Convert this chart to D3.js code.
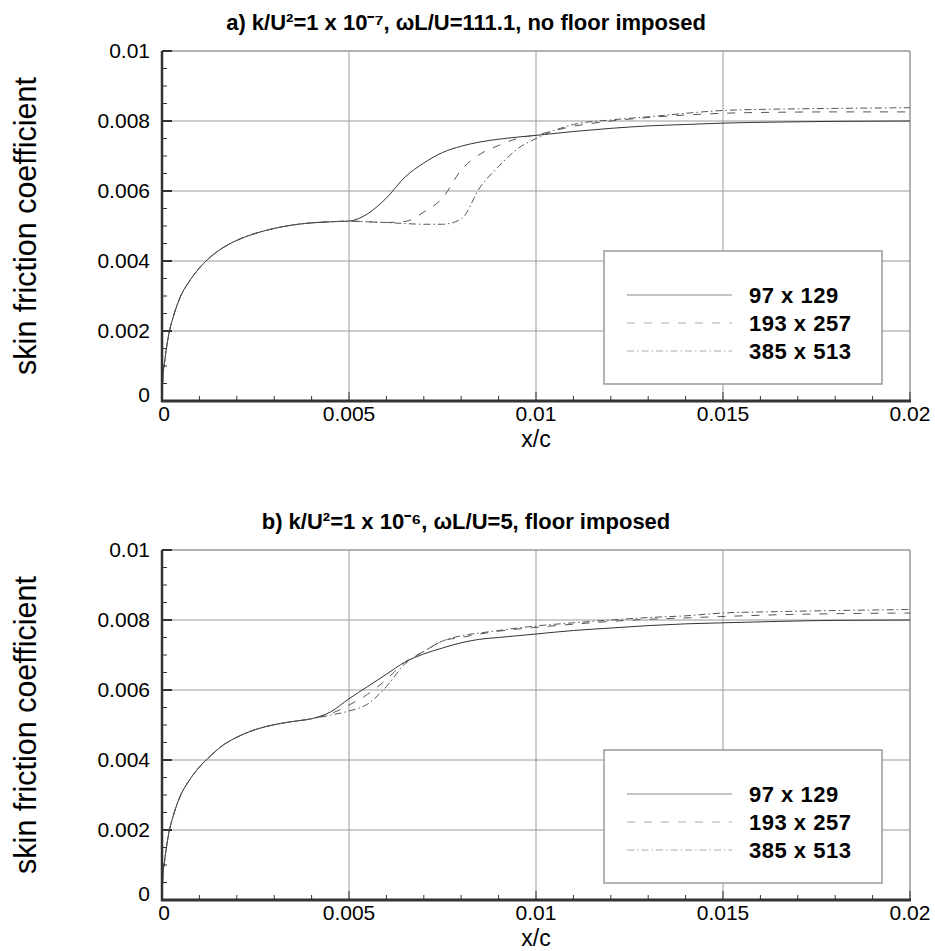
<!DOCTYPE html>
<html>
<head>
<meta charset="utf-8">
<script src="https://cdn.jsdelivr.net/npm/d3@7"></script>
<style>
html, body { margin: 0; padding: 0; background: #fff; }
svg { display: block; }
text { font-family: "Liberation Sans", Arial, Helvetica, sans-serif; fill: #000; }
</style>
</head>
<body>
<svg id="chart" width="935" height="951"></svg>
<script>
// ---------------- data ----------------
const xGrid = [0, 0.00002, 0.00008, 0.0002, 0.0003, 0.0005, 0.0007, 0.001, 0.0013, 0.0016,
  0.002, 0.0025, 0.003, 0.0035, 0.004, 0.0045, 0.005, 0.0055, 0.006, 0.0065,
  0.007, 0.0075, 0.008, 0.0085, 0.009, 0.0095, 0.01, 0.011, 0.012, 0.013,
  0.014, 0.015, 0.0165, 0.018, 0.02];

// panel a
const a97  = [0, 0.0006, 0.0012, 0.0020, 0.0024, 0.0030, 0.00337, 0.0038, 0.00412, 0.00436,
  0.00459, 0.00479, 0.00493, 0.00503, 0.00509, 0.00512, 0.00514, 0.00535, 0.0058, 0.0064,
  0.0068, 0.0071, 0.00728, 0.0074, 0.00748, 0.00754, 0.00759, 0.0077, 0.00779, 0.00786,
  0.0079, 0.00794, 0.00797, 0.00799, 0.0080];
const a193 = [0, 0.0006, 0.0012, 0.0020, 0.0024, 0.0030, 0.00337, 0.0038, 0.00412, 0.00436,
  0.00459, 0.00479, 0.00493, 0.00503, 0.00509, 0.00512, 0.00514, 0.00512, 0.0051, 0.00513,
  0.0054, 0.0058, 0.0066, 0.00705, 0.0073, 0.0075, 0.0076, 0.00785, 0.0080, 0.0081,
  0.00817, 0.00822, 0.00825, 0.00826, 0.00826];
const a385 = [0, 0.0006, 0.0012, 0.0020, 0.0024, 0.0030, 0.00337, 0.0038, 0.00412, 0.00436,
  0.00459, 0.00479, 0.00493, 0.00503, 0.00509, 0.00512, 0.00514, 0.00512, 0.0051, 0.00507,
  0.00505, 0.00505, 0.0052, 0.0061, 0.0067, 0.0072, 0.0075, 0.0079, 0.00803, 0.00812,
  0.00822, 0.0083, 0.00834, 0.00836, 0.00838];

// panel b
const b97  = [0, 0.0006, 0.0012, 0.0020, 0.0024, 0.0030, 0.00337, 0.0038, 0.00412, 0.0044,
  0.00465, 0.00487, 0.00501, 0.0051, 0.00518, 0.00537, 0.00575, 0.0061, 0.00645, 0.0068,
  0.00703, 0.0072, 0.00735, 0.00745, 0.0075, 0.00755, 0.0076, 0.0077, 0.00777, 0.00784,
  0.00789, 0.00792, 0.00796, 0.00799, 0.0080];
const b193 = [0, 0.0006, 0.0012, 0.0020, 0.0024, 0.0030, 0.00337, 0.0038, 0.00412, 0.0044,
  0.00465, 0.00487, 0.00501, 0.0051, 0.00518, 0.00532, 0.00557, 0.00588, 0.0063, 0.0068,
  0.0071, 0.0074, 0.0075, 0.0076, 0.00768, 0.00774, 0.00779, 0.00788, 0.00796, 0.00802,
  0.00806, 0.0081, 0.00815, 0.00818, 0.0082];
const b385 = [0, 0.0006, 0.0012, 0.0020, 0.0024, 0.0030, 0.00337, 0.0038, 0.00412, 0.0044,
  0.00465, 0.00487, 0.00501, 0.0051, 0.00518, 0.00528, 0.0054, 0.0056, 0.0061, 0.00675,
  0.0071, 0.0074, 0.00755, 0.00763, 0.0077, 0.00777, 0.00783, 0.00792, 0.0080, 0.00807,
  0.00812, 0.0082, 0.00824, 0.00827, 0.0083];

const seriesNames = ["97 x 129", "193 x 257", "385 x 513"];
const xTicks = [0, 0.005, 0.01, 0.015, 0.02];
const xTickLabels = ["0", "0.005", "0.01", "0.015", "0.02"];
const yTicks = [0, 0.002, 0.004, 0.006, 0.008, 0.01];
const yTickLabels = ["0", "0.002", "0.004", "0.006", "0.008", "0.01"];
const titleA = "a) k/U\u00B2=1 x 10\u207B\u2077, \u03C9L/U=111.1, no floor imposed";
const titleB = "b) k/U\u00B2=1 x 10\u207B\u2076, \u03C9L/U=5, floor imposed";
const yLabel = "skin friction coefficient";
const xLabel = "x/c";

// ---------------- drawing ----------------
const svg = d3.select("#chart");
const W = 748, H = 350, L = 162;
const styles = [
  { color: "#333", dash: null, legColor: "#888" },
  { color: "#555", dash: "8,9", legColor: "#aaa" },
  { color: "#555", dash: "7,3,1.5,3", legColor: "#aaa" }
];

function panel(top, title, ys) {
  const g = svg.append("g").attr("transform", `translate(${L},${top})`);
  const x = d3.scaleLinear().domain([0, 0.02]).range([0, W]);
  const y = d3.scaleLinear().domain([0, 0.01]).range([H, 0]);

  // grid
  g.append("g").selectAll("line").data(xTicks.slice(1, -1)).join("line")
    .attr("x1", d => x(d)).attr("x2", d => x(d)).attr("y1", 0).attr("y2", H)
    .attr("stroke", "#9a9a9a").attr("stroke-width", 1);
  g.append("g").selectAll("line").data(yTicks.slice(1, -1)).join("line")
    .attr("y1", d => y(d)).attr("y2", d => y(d)).attr("x1", 0).attr("x2", W)
    .attr("stroke", "#9a9a9a").attr("stroke-width", 1);
  // frame top/right
  g.append("line").attr("x1", 0).attr("x2", W).attr("y1", 0).attr("y2", 0)
    .attr("stroke", "#999").attr("stroke-width", 1.5);
  g.append("line").attr("x1", W).attr("x2", W).attr("y1", 0).attr("y2", H)
    .attr("stroke", "#999").attr("stroke-width", 1.5);

  // curves
  const line = d3.line().x((d, i) => x(xGrid[i])).y(d => y(d)).curve(d3.curveMonotoneX);
  ys.forEach((arr, k) => {
    g.append("path").datum(arr).attr("d", line).attr("fill", "none")
      .attr("stroke", styles[k].color).attr("stroke-width", 1)
      .attr("stroke-dasharray", styles[k].dash);
  });

  // ticks (inside)
  g.append("g").selectAll("line").data(d3.range(0, 0.02001, 0.001)).join("line")
    .attr("x1", d => x(d)).attr("x2", d => x(d)).attr("y1", H)
    .attr("y2", (d, i) => H - (i % 5 === 0 ? 9 : 5))
    .attr("stroke", "#333").attr("stroke-width", 1);
  g.append("g").selectAll("line").data(d3.range(0, 0.01001, 0.0005)).join("line")
    .attr("y1", d => y(d)).attr("y2", d => y(d)).attr("x1", 0)
    .attr("x2", (d, i) => (i % 4 === 0 ? 10 : 5))
    .attr("stroke", "#333").attr("stroke-width", (d, i) => (i % 4 === 0 ? 2 : 1));
  g.append("line").attr("x1", -1).attr("x2", W + 1).attr("y1", H).attr("y2", H)
    .attr("stroke", "#333").attr("stroke-width", 3);
  g.append("line").attr("x1", 0).attr("x2", 0).attr("y1", 0).attr("y2", H + 1)
    .attr("stroke", "#333").attr("stroke-width", 2.5);

  // tick labels
  g.append("g").selectAll("text").data(xTicks).join("text")
    .attr("x", (d, i) => x(d) + (i === 0 ? 2 : 0)).attr("y", H + 20)
    .attr("text-anchor", "middle").style("font-size", "21px")
    .text((d, i) => xTickLabels[i]);
  g.append("g").selectAll("text").data(yTicks).join("text")
    .attr("x", -12).attr("y", (d, i) => y(d) + 7 - (i === 0 ? 6 : 0))
    .attr("text-anchor", "end").style("font-size", "21px")
    .text((d, i) => yTickLabels[i]);

  // axis titles
  g.append("text").attr("x", W / 2).attr("y", H + 45.5)
    .attr("text-anchor", "middle").style("font-size", "23px").text(xLabel);
  g.append("text").attr("transform", `translate(${36 - L},${H / 2}) rotate(-90)`)
    .attr("text-anchor", "middle").style("font-size", "30.5px").text(yLabel);

  // title
  svg.append("text").attr("x", 466).attr("y", top - 21)
    .attr("text-anchor", "middle").style("font-size", "22px").style("font-weight", "bold")
    .text(title);

  // legend
  const lg = g.append("g").attr("transform", `translate(${604 - L},${200})`);
  lg.append("rect").attr("width", 278).attr("height", 133)
    .attr("fill", "#fff").attr("stroke", "#9a9a9a").attr("stroke-width", 1.5);
  seriesNames.forEach((name, k) => {
    const yy = 44 + k * 28;
    lg.append("line").attr("x1", 23).attr("x2", 128).attr("y1", yy).attr("y2", yy)
      .attr("stroke", styles[k].legColor).attr("stroke-width", 1)
      .attr("stroke-dasharray", styles[k].dash);
    lg.append("text").attr("x", 145).attr("y", yy + 8)
      .style("font-size", "22px").style("font-weight", "bold").style("letter-spacing", "0.5px")
      .text(name);
  });
}

panel(51, titleA, [a97, a193, a385]);
panel(550, titleB, [b97, b193, b385]);
</script>
</body>
</html>
